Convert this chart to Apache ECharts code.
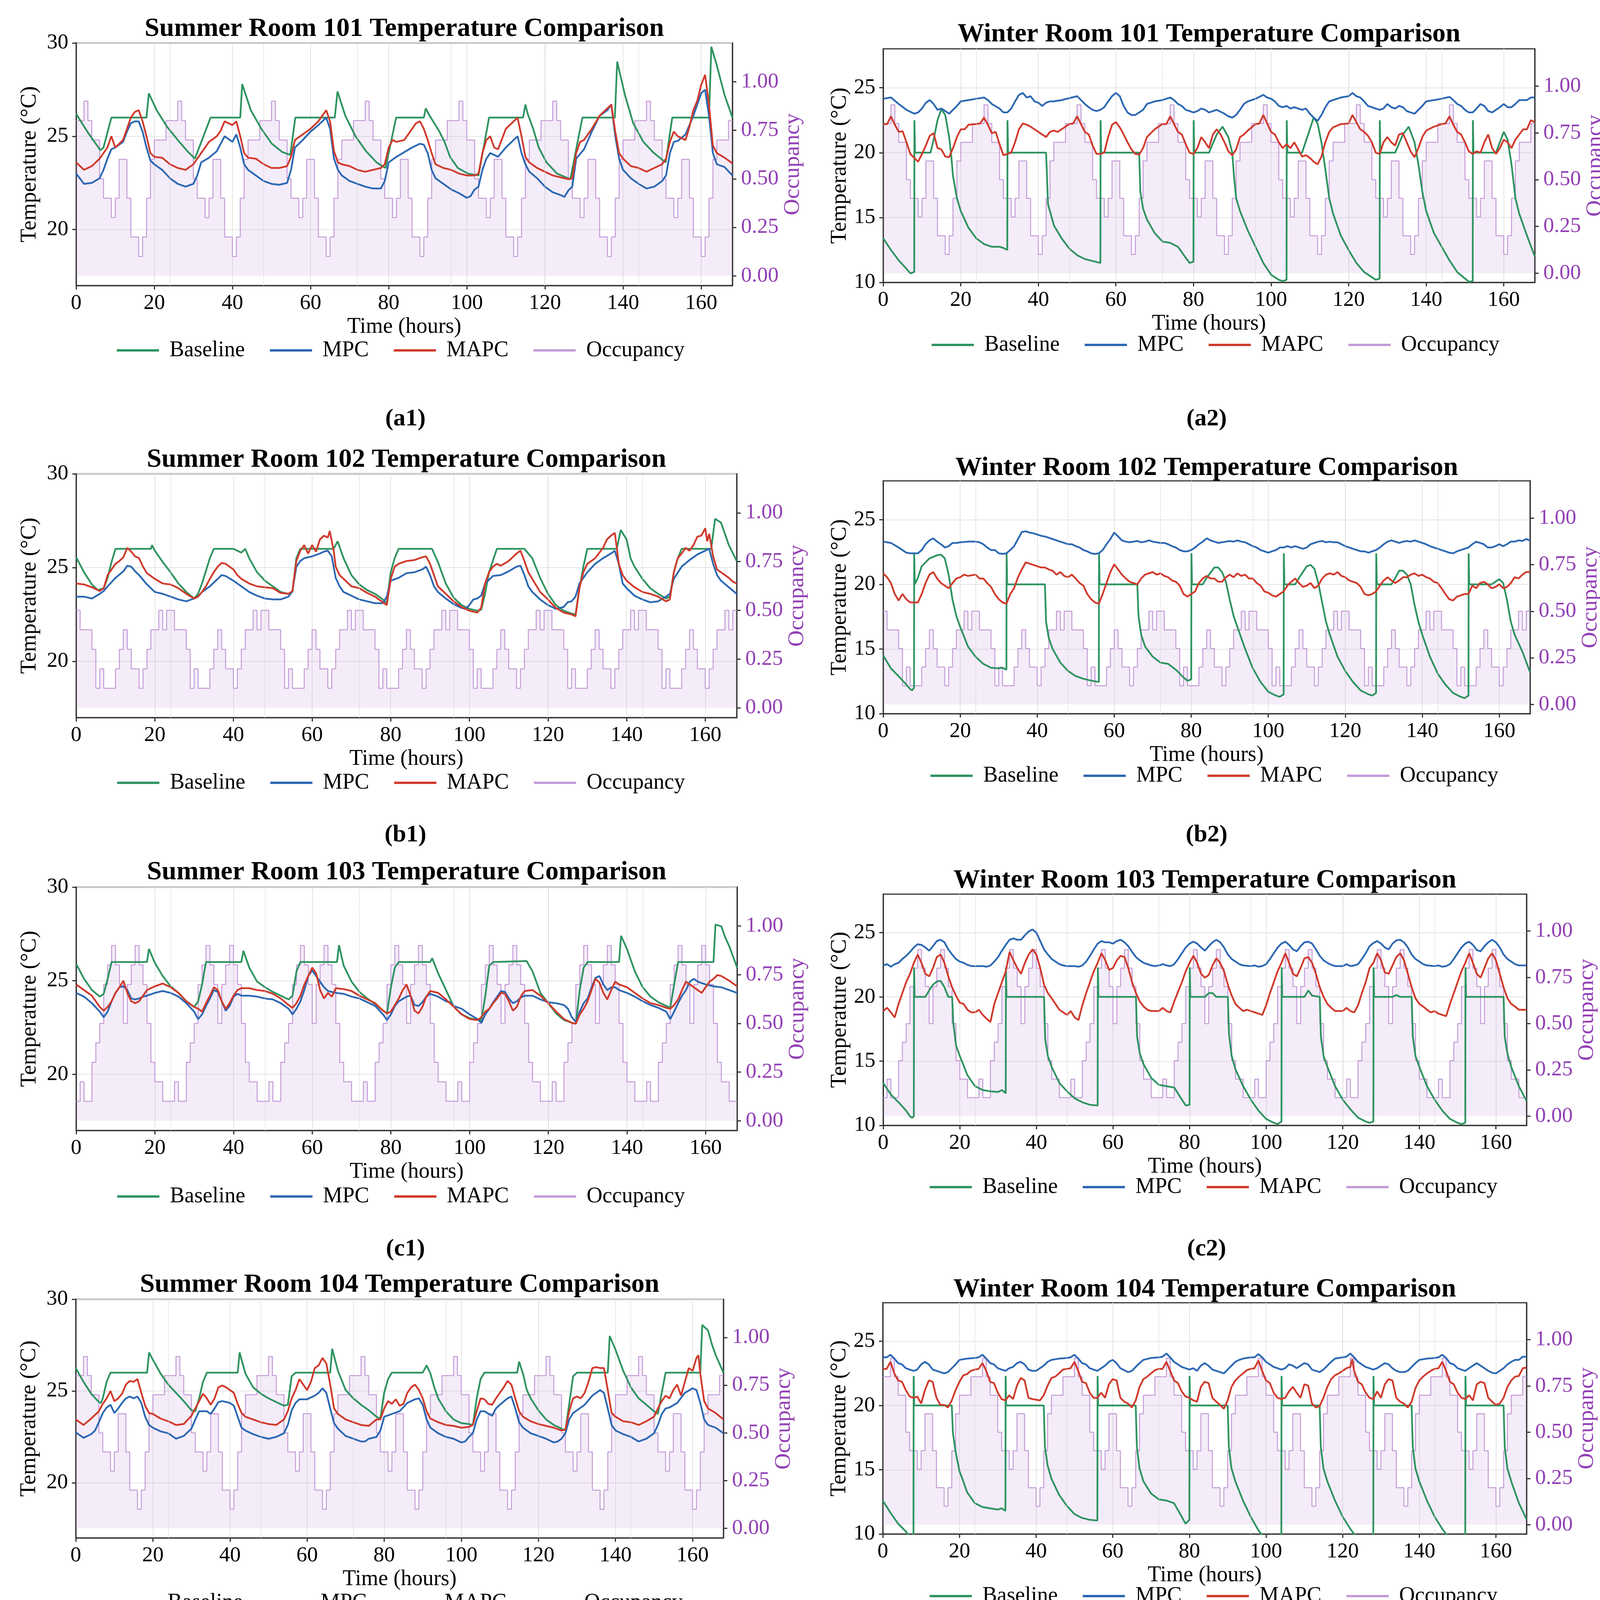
<!DOCTYPE html>
<html>
<head>
<meta charset="utf-8">
<script src="https://cdn.jsdelivr.net/npm/echarts@6.0.0/dist/echarts.min.js"></script>
<style>
html, body { margin: 0; padding: 0; background: #fff; }
#chart { width: 4142px; height: 4303px; }
</style>
</head>
<body>
<div id="chart"></div>
<script>
// ---- tick labels / axis values ----
var hourTicks = [0, 20, 40, 60, 80, 100, 120, 140, 160];
var summerTicks = [20, 25, 30];
var winterTicks = [10, 15, 20, 25];
var occTicks = [0, 0.25, 0.5, 0.75, 1];
var dayMarks = [24, 48, 72, 96, 120, 144];
var seriesNames = ['Baseline', 'MPC', 'MAPC', 'Occupancy'];

// ---- hourly occupancy, hours 0..168 ----
var occ101 = [
  0.8,0.8,0.9,0.8,0.7,0.7,0.5,0.4,0.4,0.3,0.4,0.6,0.6,0.4,0.2,0.2,0.1,0.2,0.4,0.6,0.7,0.7,0.7,0.8,
  0.8,0.8,0.9,0.8,0.7,0.7,0.5,0.4,0.4,0.3,0.4,0.6,0.6,0.4,0.2,0.2,0.1,0.2,0.4,0.6,0.7,0.7,0.7,0.8,
  0.8,0.8,0.9,0.8,0.7,0.7,0.5,0.4,0.4,0.3,0.4,0.6,0.6,0.4,0.2,0.2,0.1,0.2,0.4,0.6,0.7,0.7,0.7,0.8,
  0.8,0.8,0.9,0.8,0.7,0.7,0.5,0.4,0.4,0.3,0.4,0.6,0.6,0.4,0.2,0.2,0.1,0.2,0.4,0.6,0.7,0.7,0.7,0.8,
  0.8,0.8,0.9,0.8,0.7,0.7,0.5,0.4,0.4,0.3,0.4,0.6,0.6,0.4,0.2,0.2,0.1,0.2,0.4,0.6,0.7,0.7,0.7,0.8,
  0.8,0.8,0.9,0.8,0.7,0.7,0.5,0.4,0.4,0.3,0.4,0.6,0.6,0.4,0.2,0.2,0.1,0.2,0.4,0.6,0.7,0.7,0.7,0.8,
  0.8,0.8,0.9,0.8,0.7,0.7,0.5,0.4,0.4,0.3,0.4,0.6,0.6,0.4,0.2,0.2,0.1,0.2,0.4,0.6,0.7,0.7,0.7,0.8,
  0.8];
var occ102 = [
  0.5,0.4,0.4,0.4,0.3,0.1,0.2,0.1,0.1,0.1,0.2,0.3,0.4,0.3,0.2,0.2,0.1,0.2,0.3,0.4,0.4,0.5,0.4,0.5,
  0.5,0.4,0.4,0.4,0.3,0.1,0.2,0.1,0.1,0.1,0.2,0.3,0.4,0.3,0.2,0.2,0.1,0.2,0.3,0.4,0.4,0.5,0.4,0.5,
  0.5,0.4,0.4,0.4,0.3,0.1,0.2,0.1,0.1,0.1,0.2,0.3,0.4,0.3,0.2,0.2,0.1,0.2,0.3,0.4,0.4,0.5,0.4,0.5,
  0.5,0.4,0.4,0.4,0.3,0.1,0.2,0.1,0.1,0.1,0.2,0.3,0.4,0.3,0.2,0.2,0.1,0.2,0.3,0.4,0.4,0.5,0.4,0.5,
  0.5,0.4,0.4,0.4,0.3,0.1,0.2,0.1,0.1,0.1,0.2,0.3,0.4,0.3,0.2,0.2,0.1,0.2,0.3,0.4,0.4,0.5,0.4,0.5,
  0.5,0.4,0.4,0.4,0.3,0.1,0.2,0.1,0.1,0.1,0.2,0.3,0.4,0.3,0.2,0.2,0.1,0.2,0.3,0.4,0.4,0.5,0.4,0.5,
  0.5,0.4,0.4,0.4,0.3,0.1,0.2,0.1,0.1,0.1,0.2,0.3,0.4,0.3,0.2,0.2,0.1,0.2,0.3,0.4,0.4,0.5,0.4,0.5,
  0.5];
var occ103 = [
  0.1,0.2,0.1,0.1,0.3,0.4,0.5,0.7,0.8,0.9,0.8,0.7,0.5,0.7,0.8,0.9,0.8,0.7,0.5,0.3,0.2,0.2,0.1,0.1,
  0.1,0.2,0.1,0.1,0.3,0.4,0.5,0.7,0.8,0.9,0.8,0.7,0.5,0.7,0.8,0.9,0.8,0.7,0.5,0.3,0.2,0.2,0.1,0.1,
  0.1,0.2,0.1,0.1,0.3,0.4,0.5,0.7,0.8,0.9,0.8,0.7,0.5,0.7,0.8,0.9,0.8,0.7,0.5,0.3,0.2,0.2,0.1,0.1,
  0.1,0.2,0.1,0.1,0.3,0.4,0.5,0.7,0.8,0.9,0.8,0.7,0.5,0.7,0.8,0.9,0.8,0.7,0.5,0.3,0.2,0.2,0.1,0.1,
  0.1,0.2,0.1,0.1,0.3,0.4,0.5,0.7,0.8,0.9,0.8,0.7,0.5,0.7,0.8,0.9,0.8,0.7,0.5,0.3,0.2,0.2,0.1,0.1,
  0.1,0.2,0.1,0.1,0.3,0.4,0.5,0.7,0.8,0.9,0.8,0.7,0.5,0.7,0.8,0.9,0.8,0.7,0.5,0.3,0.2,0.2,0.1,0.1,
  0.1,0.2,0.1,0.1,0.3,0.4,0.5,0.7,0.8,0.9,0.8,0.7,0.5,0.7,0.8,0.9,0.8,0.7,0.5,0.3,0.2,0.2,0.1,0.1,
  0.1];
var occ104 = [
  0.8,0.8,0.9,0.8,0.7,0.7,0.5,0.4,0.4,0.3,0.4,0.6,0.6,0.4,0.2,0.2,0.1,0.2,0.4,0.6,0.7,0.7,0.7,0.8,
  0.8,0.8,0.9,0.8,0.7,0.7,0.5,0.4,0.4,0.3,0.4,0.6,0.6,0.4,0.2,0.2,0.1,0.2,0.4,0.6,0.7,0.7,0.7,0.8,
  0.8,0.8,0.9,0.8,0.7,0.7,0.5,0.4,0.4,0.3,0.4,0.6,0.6,0.4,0.2,0.2,0.1,0.2,0.4,0.6,0.7,0.7,0.7,0.8,
  0.8,0.8,0.9,0.8,0.7,0.7,0.5,0.4,0.4,0.3,0.4,0.6,0.6,0.4,0.2,0.2,0.1,0.2,0.4,0.6,0.7,0.7,0.7,0.8,
  0.8,0.8,0.9,0.8,0.7,0.7,0.5,0.4,0.4,0.3,0.4,0.6,0.6,0.4,0.2,0.2,0.1,0.2,0.4,0.6,0.7,0.7,0.7,0.8,
  0.8,0.8,0.9,0.8,0.7,0.7,0.5,0.4,0.4,0.3,0.4,0.6,0.6,0.4,0.2,0.2,0.1,0.2,0.4,0.6,0.7,0.7,0.7,0.8,
  0.8,0.8,0.9,0.8,0.7,0.7,0.5,0.4,0.4,0.3,0.4,0.6,0.6,0.4,0.2,0.2,0.1,0.2,0.4,0.6,0.7,0.7,0.7,0.8,
  0.8];

// ---- temperatures, [hour, degC] ----
// summer room 101
var a1Base = [[0,26.2],[3,25.2],[6.2,24.25],[7,24.4],[9,26],[18,26],[18.6,27.3],[20.6,26.4],[23.3,25.5],[26,24.8],[28.7,24.15],[30.4,23.8],[34.4,26],[42,26],[42.5,27.8],[44.7,26.4],[47.4,25.4],[50.1,24.6],[52.8,24.15],[54.8,24.0],[56.1,26],[66.2,26],[66.9,27.4],[68.9,26.1],[71.5,25.0],[74.2,24.2],[76.9,23.6],[79.2,23.3],[81.9,26],[89,26],[89.5,26.5],[90.2,26.2],[93,25.25],[94.3,24.7],[95.7,23.9],[97.7,23.3],[100.3,23.0],[103,22.9],[105.7,26],[114.4,26],[115,26.7],[115.6,26.2],[117,25.4],[118.4,24.4],[120.4,23.6],[123.1,23.0],[126.5,22.7],[127.8,24.1],[129.6,26],[137.9,26],[138.5,29.0],[140.5,27.2],[142.6,25.7],[145.2,24.7],[147.9,24.1],[150.9,23.6],[152.6,26],[162,26],[162.6,29.8],[164,28.8],[166,27.2],[168,26.0]];
var a1Mpc = [[0,23.0],[2,22.45],[4,22.5],[6,22.75],[7,23.2],[8,23.8],[9,24.3],[10,24.4],[12,24.7],[13,25.25],[14,25.7],[15,25.8],[16,25.8],[17,25.25],[18,24.4],[19,23.7],[20,23.5],[22,23.2],[24,22.75],[26,22.45],[28,22.3],[30,22.45],[31,22.9],[32,23.6],[34,23.85],[36,24.2],[38,25.0],[40,24.7],[41,25.1],[42,24.4],[43,23.5],[44,23.2],[46,22.9],[48,22.6],[50,22.45],[52,22.4],[54,22.5],[55,23.2],[56,24.4],[58,24.8],[60,25.25],[62,25.6],[63,25.8],[64,26.0],[65,25.4],[66,23.8],[67,23.2],[68,22.9],[70,22.6],[72,22.45],[74,22.3],[76,22.2],[78,22.2],[79,22.6],[80,23.6],[82,23.9],[84,24.15],[86,24.4],[88,24.6],[89,24.55],[90,24.1],[91,23.2],[92,22.75],[94,22.45],[96,22.15],[98,21.95],[100,21.7],[101,21.8],[102,22.15],[103,22.3],[104,23.2],[105,23.8],[106,24.1],[108,23.9],[110,24.4],[112,24.8],[113,25.0],[114,24.1],[115,23.5],[116,23.1],[118,22.75],[120,22.3],[122,22.0],[124,21.85],[125,21.75],[126,22.1],[127,22.3],[128,23.8],[130,24.3],[132,25.25],[134,26.1],[136,26.4],[137,26.7],[138,25.0],[139,23.8],[140,23.2],[142,22.75],[144,22.45],[146,22.2],[148,22.3],[150,22.6],[151,22.9],[152,24.1],[153,24.7],[154,24.75],[156,25.1],[158,26.1],[160,27.3],[161,27.5],[162,26.1],[163,24.1],[164,23.5],[166,23.35],[168,22.9]];
var a1Mapc = [[0,23.6],[2,23.2],[4,23.4],[6,23.8],[8,24.4],[9,25.0],[10,24.4],[12,24.8],[13,25.4],[14,26.0],[15,26.3],[16,26.4],[17,25.8],[18,25.0],[19,24.1],[20,23.9],[22,23.85],[24,23.5],[26,23.3],[28,23.2],[30,23.5],[31,23.8],[32,24.1],[34,24.7],[36,25.0],[37,25.3],[38,25.8],[40,25.6],[41,25.8],[42,25.0],[43,24.1],[44,23.85],[46,23.8],[48,23.5],[50,23.3],[52,23.3],[54,23.4],[55,23.9],[56,24.8],[58,25.1],[60,25.4],[62,25.8],[63,26.1],[64,26.4],[65,25.8],[66,24.2],[67,23.6],[68,23.5],[70,23.4],[72,23.2],[74,23.1],[76,23.2],[78,23.3],[79,23.5],[80,24.4],[81,24.8],[82,24.7],[84,24.8],[86,25.4],[87,25.7],[88,25.8],[89,25.4],[90,24.8],[91,24.1],[92,23.5],[94,23.3],[96,23.2],[98,23.0],[100,22.9],[102,22.9],[103,23.0],[104,24.1],[105,24.8],[106,25.0],[107,24.4],[108,24.3],[110,25.4],[112,25.8],[113,26.0],[114,25.0],[115,23.9],[116,23.6],[118,23.3],[120,23.1],[122,22.9],[124,22.8],[126,22.7],[127,22.75],[128,24.1],[129,24.7],[130,24.8],[132,25.4],[134,26.1],[136,26.5],[137,26.7],[138,25.25],[139,24.1],[140,23.8],[142,23.4],[144,23.3],[146,23.1],[148,23.3],[150,23.5],[151,23.8],[152,24.7],[153,25.25],[154,25.0],[156,24.8],[157,25.5],[158,26.4],[159,26.9],[160,27.75],[161,28.3],[162,26.7],[163,24.5],[164,24.1],[166,23.85],[168,23.55]];
// winter room 101
var a2Base = [[0,13.4],[2,12.5],[4,11.7],[6,11.05],[7,10.7],[8,10.8],[8.05,22.5],[8.2,20],[12.2,20],[13,21.0],[14,22.5],[15,23.35],[16,22.9],[17,21.2],[17.5,19.9],[18,18.2],[19,16.5],[20,15.5],[22,14.2],[24,13.4],[26,12.95],[28,12.75],[30,12.75],[31,12.65],[32,12.5],[32.05,22.5],[32.2,20],[42,20],[42.5,16],[43,15.5],[44,14.4],[46,13.4],[48,12.6],[50,12.1],[52,11.8],[54,11.65],[56,11.5],[56.05,22.5],[56.2,20],[66,20],[66.3,17],[67,15.7],[68,14.85],[70,13.8],[72,13.15],[74,13.05],[76,12.75],[78,11.9],[79,11.5],[80,11.6],[80.05,22.5],[80.2,20],[84,20],[86,21.4],[87.5,22.0],[89,21.2],[90,20],[90.5,18.0],[91,16.5],[92,15.5],[94,14.0],[96,12.75],[98,11.5],[100,10.6],[102,10.2],[103,10.1],[104,10.2],[104.05,22.5],[104.2,20],[108,20],[110,21.8],[111,22.7],[112,22.25],[113,20.8],[114,18.7],[115,16.5],[116,15.3],[118,13.6],[120,12.5],[122,11.5],[124,10.8],[126,10.4],[127,10.2],[128,10.3],[128.05,22.5],[128.2,20],[132,20],[134,21.4],[135.5,22.0],[137,20.8],[138,19.1],[139,17.0],[140,15.5],[142,13.8],[144,12.75],[146,11.7],[148,10.8],[150,10.3],[151,10.05],[152,10.1],[152.05,22.5],[152.2,20],[158,20],[159,20.8],[160,21.6],[161,21.0],[162,19.1],[163,16.5],[164,15.3],[166,13.6],[168,12.0]];
var a2Mpc = [[0,24.15],[2,24.25],[4,23.75],[6,23.3],[8,23.0],[9,23.1],[10,23.4],[11,23.85],[12,24.05],[13,23.75],[14,23.3],[15,23.4],[16,23.2],[17,23.0],[18,23.3],[19,23.6],[20,23.95],[22,24.05],[24,24.15],[26,24.25],[27,24.05],[28,23.75],[30,23.4],[31,23.1],[32,23.1],[33,23.4],[34,23.95],[35,24.45],[36,24.6],[37,24.25],[38,24.35],[39,23.95],[40,23.85],[41,23.6],[42,23.85],[43,23.95],[44,23.95],[46,24.05],[48,24.2],[50,24.35],[51,24.05],[52,23.75],[53,23.5],[54,23.3],[55,23.2],[56,23.3],[57,23.5],[58,23.95],[59,24.35],[60,24.6],[61,24.35],[62,23.6],[63,23.1],[64,22.9],[65,22.9],[66,23.1],[67,23.3],[68,23.75],[69,23.85],[70,23.95],[72,24.05],[74,24.25],[75,24.05],[76,23.75],[77,23.6],[78,23.3],[79,23.2],[80,23.1],[81,23.2],[82,23.4],[83,23.3],[84,23.1],[85,23.2],[86,23.3],[88,23.0],[89,22.8],[90,22.7],[91,22.9],[92,23.3],[93,23.75],[94,23.95],[96,24.15],[98,24.45],[99,24.25],[100,24.15],[101,23.95],[102,23.6],[103,23.5],[104,23.6],[105,23.4],[106,23.5],[107,23.4],[108,23.3],[109,23.4],[110,23.0],[111,22.7],[112,22.45],[113,22.9],[114,23.5],[115,23.95],[116,24.05],[118,24.25],[120,24.35],[121,24.6],[122,24.35],[123,24.25],[124,23.95],[125,23.6],[126,23.5],[127,23.4],[128,23.3],[129,23.4],[130,23.75],[131,23.5],[132,23.4],[133,23.6],[134,23.5],[135,23.2],[136,23.1],[137,23.0],[138,23.3],[139,23.6],[140,23.95],[142,24.05],[144,24.15],[146,24.3],[147,24.05],[148,23.75],[149,23.6],[150,23.3],[151,23.1],[152,23.1],[153,23.4],[154,23.75],[155,23.6],[156,23.2],[157,23.1],[158,23.3],[159,23.5],[160,23.75],[161,23.5],[162,23.5],[163,23.75],[164,24.05],[166,24.05],[167,24.25],[168,24.25]];
var a2Mapc = [[0,22.2],[1,22.2],[2,22.8],[3,22.15],[4,21.6],[5,21.65],[6,20.8],[7,19.9],[8,19.6],[9,19.3],[10,19.9],[11,20.55],[12,21.3],[13,21.5],[14,20.35],[15,20.25],[16,19.7],[17,19.65],[18,20.35],[19,21.2],[20,21.8],[21,21.8],[22,22.15],[24,22.2],[25,22.25],[26,22.7],[27,22.15],[28,21.5],[29,21.6],[30,20.65],[31,19.8],[32,19.9],[33,20.0],[34,20.8],[35,21.8],[36,22.25],[37,22.15],[38,22.0],[39,21.8],[40,21.6],[41,21.4],[42,21.2],[43,21.6],[44,21.7],[45,21.6],[46,21.8],[48,22.2],[49,22.25],[50,22.8],[51,22.2],[52,21.6],[53,21.4],[54,20.55],[55,19.9],[56,19.9],[57,20.0],[58,21.2],[59,22.15],[60,22.35],[61,21.95],[62,21.4],[63,20.8],[64,20.25],[65,19.9],[66,19.85],[67,20.35],[68,21.2],[69,21.5],[70,21.8],[72,22.2],[73,22.2],[74,22.8],[75,22.2],[76,21.6],[77,21.4],[78,20.65],[79,20.0],[80,19.9],[81,20.35],[82,21.2],[83,20.8],[84,20.35],[85,21.4],[86,21.8],[87,21.4],[88,20.8],[89,20.1],[90,19.8],[91,20.25],[92,21.2],[93,21.4],[94,21.7],[96,22.2],[97,22.25],[98,22.9],[99,22.25],[100,21.6],[101,21.4],[102,20.8],[103,20.35],[104,20.65],[105,20.35],[106,20.8],[107,20.25],[108,19.7],[109,19.8],[110,19.6],[111,19.3],[112,19.1],[113,19.7],[114,20.8],[115,21.6],[116,21.95],[118,22.2],[120,22.25],[121,22.9],[122,22.35],[123,21.8],[124,21.6],[125,21.3],[126,20.8],[127,20.0],[128,19.9],[129,20.8],[130,21.2],[131,20.8],[132,20.55],[133,21.4],[134,21.5],[135,20.8],[136,20.1],[137,19.65],[138,20.35],[139,21.2],[140,21.7],[142,22.0],[144,22.2],[145,22.25],[146,22.8],[147,22.15],[148,21.6],[149,21.4],[150,20.8],[151,20.1],[152,19.9],[153,20.1],[154,20.0],[155,20.8],[156,21.4],[157,20.35],[158,19.9],[159,20.35],[160,21.0],[161,20.8],[162,20.35],[163,21.0],[164,21.4],[165,21.8],[166,21.8],[167,22.5],[168,22.35]];
// summer room 102
var b1Base = [[0,25.55],[2,24.75],[4,24.1],[5.5,23.8],[7,23.9],[8,24.45],[9,25.3],[10,26.0],[19,26.0],[19.3,26.2],[20,25.9],[22,25.3],[24,24.75],[26,24.15],[28,23.7],[30,23.35],[31,23.6],[32,24.15],[34,25.5],[35,26.0],[40,26.0],[42,25.8],[43,26.0],[44,25.5],[46,24.75],[48,24.3],[50,24.0],[52,23.7],[54,23.6],[55,23.7],[56,25.5],[57,26.0],[65.5,26.0],[66.5,26.4],[68,25.5],[70,24.6],[72,24.1],[74,23.8],[76,23.6],[78,23.3],[79,23.1],[80,24.75],[81,25.5],[82,26.0],[90.5,26.0],[92,25.3],[94,24.15],[96,23.4],[98,23.0],[100,22.8],[102,22.7],[103,22.75],[104,23.6],[105,24.75],[107,26.0],[114,26.0],[116,25.5],[118,24.45],[120,23.6],[122,23.0],[124,22.7],[126,22.55],[127,22.5],[128,23.9],[129,25.05],[130,26.0],[137.5,26.0],[138.5,27.0],[140,26.5],[141,25.5],[142,25.05],[144,24.4],[146,23.9],[148,23.6],[150,23.35],[151,23.45],[152,24.75],[153,25.5],[154,26.0],[161.5,26.0],[162.5,27.6],[164,27.4],[165,26.8],[166,26.2],[168,25.35]];
var b1Mpc = [[0,23.45],[2,23.45],[4,23.35],[6,23.6],[7,23.75],[8,24.0],[10,24.45],[12,24.8],[13,25.1],[14,25.05],[15,24.8],[16,24.6],[18,24.1],[20,23.7],[22,23.6],[24,23.45],[26,23.3],[28,23.2],[30,23.35],[31,23.45],[32,23.7],[34,24.0],[36,24.4],[37,24.6],[38,24.55],[40,24.3],[42,24.0],[44,23.7],[46,23.5],[48,23.35],[50,23.3],[52,23.3],[54,23.45],[55,23.75],[56,25.05],[57,25.35],[58,25.5],[60,25.6],[62,25.75],[63,25.85],[64,25.9],[65,25.6],[66,24.45],[67,24.0],[68,23.7],[70,23.5],[72,23.3],[74,23.2],[76,23.1],[78,23.1],[79,23.45],[80,24.3],[82,24.45],[84,24.7],[86,24.75],[88,24.9],[89,25.05],[90,24.6],[91,24.0],[92,23.7],[94,23.35],[96,23.05],[98,22.85],[99,22.8],[100,23.0],[101,23.3],[102,23.35],[103,23.5],[104,24.15],[106,24.55],[108,24.6],[110,24.8],[112,25.05],[113,25.1],[114,24.6],[115,24.0],[116,23.7],[118,23.3],[120,23.0],[122,22.8],[124,22.9],[125,23.15],[126,23.2],[127,23.45],[128,24.15],[130,24.75],[132,25.2],[134,25.5],[136,25.75],[137,25.9],[138,25.2],[139,24.15],[140,23.9],[142,23.5],[144,23.3],[146,23.15],[148,23.2],[150,23.45],[151,23.6],[152,24.4],[154,25.05],[156,25.4],[158,25.7],[160,25.9],[161,26.0],[162,25.2],[163,24.6],[164,24.3],[166,23.95],[168,23.6]];
var b1Mapc = [[0,24.15],[2,24.1],[4,23.95],[6,23.75],[7,23.9],[8,24.6],[9,24.9],[10,25.2],[11,25.35],[12,25.55],[13,26.05],[14,25.85],[15,25.6],[16,25.5],[17,25.05],[18,24.7],[19,24.55],[20,24.4],[22,24.15],[24,24.1],[26,23.9],[28,23.6],[30,23.35],[31,23.45],[32,23.7],[33,24.0],[34,24.4],[35,24.75],[36,25.05],[37,25.25],[38,25.2],[39,25.05],[40,24.9],[41,24.6],[42,24.4],[44,24.15],[46,24.0],[48,23.95],[50,23.9],[52,23.65],[54,23.6],[55,23.75],[56,25.35],[57,25.9],[58,26.2],[59,25.75],[60,26.2],[61,25.85],[62,26.5],[63,26.7],[64,26.6],[64.5,26.95],[65.5,25.9],[66,25.05],[67,24.6],[68,24.4],[70,24.0],[72,23.9],[74,23.65],[76,23.45],[78,23.15],[79,23.0],[80,24.4],[81,25.05],[82,25.2],[84,25.35],[86,25.4],[88,25.55],[89,25.6],[90,25.2],[91,24.6],[92,24.0],[94,23.6],[96,23.2],[98,22.9],[100,22.7],[102,22.6],[103,22.85],[104,24.15],[105,24.75],[106,25.05],[107,25.2],[108,25.1],[110,25.35],[111,25.55],[112,25.75],[113,25.9],[114,25.35],[115,24.75],[116,24.4],[118,23.7],[120,23.3],[122,22.85],[124,22.6],[126,22.5],[127,22.4],[128,23.9],[129,24.75],[130,25.2],[132,25.5],[134,26.05],[135,26.5],[136,26.7],[137,26.85],[137.5,26.05],[138,25.2],[139,24.6],[140,24.3],[142,23.95],[144,23.7],[146,23.6],[148,23.45],[150,23.2],[151,23.3],[152,24.75],[153,25.5],[154,25.75],[155,26.05],[156,25.9],[157,26.2],[158,26.65],[159,26.7],[160,27.1],[160.5,26.4],[161,26.8],[162,25.6],[163,24.9],[164,24.75],[165,24.6],[166,24.45],[167,24.25],[168,24.15]];
// winter room 102
var b2Base = [[0,14.5],[2,13.5],[4,12.9],[6,12.25],[7,11.9],[7.5,11.8],[8,12.0],[8.05,22.4],[8.2,20],[9,20.5],[10,21.4],[12,22.0],[14,22.25],[15,22.3],[16,22.0],[17,20.75],[18,18.8],[19,17.55],[20,16.7],[22,15.2],[24,14.4],[26,13.85],[28,13.55],[30,13.5],[31,13.55],[32,13.4],[32.05,22.4],[32.2,20],[42,20],[42.3,17.1],[43,15.85],[44,15.0],[46,13.95],[48,13.3],[50,12.9],[52,12.7],[54,12.55],[56,12.45],[56.05,22.4],[56.2,20],[66,20],[66.3,17.55],[67,16.1],[68,15.2],[70,14.4],[72,13.95],[74,13.85],[76,13.4],[78,12.8],[79,12.55],[80,12.65],[80.05,22.4],[80.2,20],[83,20],[84,20.5],[86,21.3],[87,21.3],[88,20.95],[89,20.2],[90,18.8],[91,17.55],[92,16.7],[94,15.0],[96,13.5],[98,12.45],[100,11.7],[102,11.4],[103,11.3],[104,11.5],[104.05,22.4],[104.2,20],[107,20],[108,20.5],[110,21.4],[111,21.5],[112,21.2],[113,20.1],[114,18.6],[115,17.1],[116,16.1],[118,14.4],[120,13.3],[122,12.45],[124,11.8],[126,11.5],[127,11.4],[128,11.6],[128.05,22.4],[128.2,20],[132,20],[133,20.5],[134,21.05],[135,21.05],[136,20.75],[137,20.0],[138,18.4],[139,17.1],[140,16.1],[142,14.4],[144,13.1],[146,12.25],[148,11.6],[150,11.3],[151,11.2],[152,11.4],[152.05,22.4],[152.2,20],[158,20],[159,20.2],[160,20.4],[161,20.1],[162,18.8],[163,17.1],[164,16.1],[166,14.8],[168,13.2]];
var b2Mpc = [[0,23.3],[2,23.2],[4,22.85],[5,22.65],[6,22.45],[7,22.4],[8,22.4],[9,22.4],[10,22.65],[11,23.1],[12,23.4],[13,23.55],[14,23.3],[15,23.1],[16,22.85],[17,22.95],[18,23.2],[19,23.2],[20,23.25],[22,23.3],[24,23.3],[25,23.25],[26,23.1],[27,22.85],[28,22.65],[29,22.65],[30,22.4],[31,22.35],[32,22.4],[33,22.65],[34,22.95],[35,23.5],[36,24.05],[37,24.1],[38,24.0],[39,23.95],[40,23.85],[41,23.75],[42,23.7],[43,23.6],[44,23.5],[45,23.4],[46,23.3],[47,23.2],[48,23.1],[49,23.1],[50,22.95],[51,22.85],[52,22.65],[53,22.55],[54,22.4],[55,22.35],[56,22.4],[57,22.65],[58,23.1],[59,23.5],[60,24.0],[61,23.7],[62,23.4],[63,23.3],[64,23.25],[65,23.3],[66,23.35],[67,23.25],[68,23.3],[69,23.4],[70,23.3],[71,23.25],[72,23.2],[73,23.2],[74,23.1],[75,22.95],[76,22.85],[77,22.65],[78,22.55],[79,22.55],[80,22.65],[81,22.85],[82,23.1],[83,23.3],[84,23.55],[85,23.4],[86,23.3],[87,23.2],[88,23.25],[89,23.3],[90,23.35],[91,23.3],[92,23.4],[93,23.3],[94,23.25],[95,23.1],[96,22.95],[97,22.85],[98,22.65],[99,22.55],[100,22.45],[101,22.55],[102,22.65],[103,22.85],[104,22.85],[105,22.95],[106,22.85],[107,22.95],[108,22.85],[109,22.75],[110,22.85],[111,23.1],[112,23.2],[113,23.3],[114,23.35],[115,23.25],[116,23.3],[117,23.25],[118,23.25],[119,23.1],[120,22.95],[121,22.85],[122,22.75],[123,22.65],[124,22.55],[125,22.55],[126,22.45],[127,22.55],[128,22.65],[129,22.85],[130,23.1],[131,23.3],[132,23.4],[133,23.3],[134,23.2],[135,23.3],[136,23.35],[137,23.3],[138,23.4],[139,23.3],[140,23.2],[141,23.1],[142,22.95],[143,22.85],[144,22.75],[145,22.65],[146,22.55],[147,22.45],[148,22.4],[149,22.55],[150,22.65],[151,22.75],[152,22.85],[153,23.1],[154,23.3],[155,23.2],[156,23.1],[157,22.85],[158,22.85],[159,22.95],[160,23.1],[161,22.95],[162,23.1],[163,23.3],[164,23.3],[165,23.4],[166,23.35],[167,23.5],[168,23.4]];
var b2Mapc = [[0,20.85],[1,20.55],[2,20.1],[3,19.25],[4,18.75],[5,19.25],[6,18.85],[7,18.6],[8,18.6],[9,18.6],[10,19.25],[11,20.1],[12,20.75],[13,20.95],[14,20.45],[15,20.1],[16,19.9],[17,19.7],[18,20.1],[19,20.45],[20,20.55],[21,20.75],[22,20.65],[24,20.75],[25,20.45],[26,20.45],[27,20.1],[28,19.8],[29,19.25],[30,18.85],[31,18.6],[32,18.5],[33,19.25],[34,19.7],[35,20.55],[36,21.15],[37,21.7],[38,21.6],[39,21.5],[40,21.4],[41,21.3],[42,21.3],[43,21.15],[44,21.05],[45,20.75],[46,20.95],[47,20.65],[48,20.55],[49,20.75],[50,20.45],[51,20.1],[52,19.9],[53,19.25],[54,18.85],[55,18.6],[56,18.5],[57,19.25],[58,20.1],[59,20.95],[60,21.55],[61,21.15],[62,20.75],[63,20.45],[64,20.2],[65,20.1],[66,20.0],[67,20.45],[68,20.75],[69,20.85],[70,20.95],[71,20.75],[72,20.85],[73,20.65],[74,20.55],[75,20.3],[76,20.2],[77,19.9],[78,19.25],[79,19.05],[80,19.25],[81,19.45],[82,20.1],[83,20.45],[84,20.65],[85,20.45],[86,20.45],[87,20.2],[88,20.2],[89,20.55],[90,20.75],[91,20.55],[92,20.85],[93,20.65],[94,20.75],[95,20.45],[96,20.45],[97,20.1],[98,19.9],[99,19.45],[100,19.35],[101,19.15],[102,19.05],[103,19.25],[104,19.45],[105,19.9],[106,20.2],[107,20.45],[108,20.1],[109,19.8],[110,19.9],[111,20.1],[112,19.7],[113,19.9],[114,20.45],[115,20.75],[116,20.85],[117,20.75],[118,20.95],[119,20.65],[120,20.55],[121,20.3],[122,20.2],[123,20.1],[124,19.8],[125,19.25],[126,19.15],[127,19.25],[128,19.45],[129,19.9],[130,20.3],[131,20.55],[132,20.3],[133,20.1],[134,20.3],[135,20.55],[136,20.55],[137,20.75],[138,20.85],[139,20.65],[140,20.75],[141,20.55],[142,20.45],[143,20.2],[144,20.1],[145,19.7],[146,19.25],[147,18.85],[148,18.75],[149,19.05],[150,19.15],[151,19.25],[152,19.25],[153,19.9],[154,19.7],[155,20.1],[156,20.2],[157,20.0],[158,19.7],[159,19.8],[160,20.0],[161,19.7],[162,19.8],[163,20.1],[164,20.55],[165,20.45],[166,20.75],[167,20.95],[168,20.95]];
// summer room 103
var c1Base = [[0,25.9],[2,25.1],[4,24.5],[6,24.15],[7,24.3],[8,25.1],[9,26.0],[18,26.0],[18.5,26.7],[20,25.95],[22,25.25],[24,24.7],[26,24.35],[28,23.9],[30,23.6],[31,23.9],[32,24.8],[33,26.0],[42,26.0],[42.5,26.6],[44,25.7],[46,24.95],[48,24.65],[50,24.4],[52,24.2],[54,24.0],[55,24.2],[56,25.5],[57,26.0],[66.3,26.0],[66.8,26.9],[68,25.8],[70,24.95],[72,24.4],[74,24.05],[76,23.75],[78,23.4],[79,23.25],[80,24.65],[81,25.7],[82,26.0],[90,26.0],[90.5,26.2],[92,25.4],[94,24.5],[96,23.6],[98,23.2],[100,23.0],[102,22.9],[103,22.9],[104,24.2],[105,25.8],[106,26.0],[114.5,26.05],[116,25.5],[118,24.35],[120,23.8],[122,23.25],[124,22.9],[126,22.75],[127,22.7],[128,24.5],[129,25.7],[130,26.0],[138,26.0],[138.5,27.4],[140,26.7],[142,25.5],[144,24.65],[146,24.15],[148,23.85],[150,23.65],[151,23.55],[152,24.8],[153,26.0],[162,26.0],[162.5,28.0],[164,27.9],[165,27.3],[166,26.85],[168,25.7]];
var c1Mpc = [[0,24.35],[2,24.15],[4,23.8],[6,23.35],[7,23.05],[8,23.35],[9,23.9],[10,24.35],[11,24.65],[12,24.7],[13,24.5],[14,24.05],[15,24.0],[16,24.05],[17,24.15],[18,24.2],[20,24.35],[22,24.45],[24,24.35],[26,24.15],[28,23.8],[30,23.35],[31,22.95],[32,23.2],[33,23.65],[34,24.05],[35,24.5],[36,24.4],[37,23.9],[38,23.4],[39,23.65],[40,24.15],[41,24.3],[42,24.2],[44,24.2],[46,24.15],[48,24.05],[50,24.0],[52,23.8],[54,23.5],[55,23.2],[56,23.5],[57,23.9],[58,24.5],[59,25.25],[60,25.55],[61,25.25],[62,24.95],[63,24.65],[64,24.45],[66,24.35],[68,24.3],[70,24.15],[72,24.05],[74,23.85],[76,23.65],[78,23.2],[79,22.9],[80,23.2],[81,23.65],[82,23.9],[84,24.15],[85,24.2],[86,23.7],[87,23.65],[88,23.85],[89,24.15],[90,24.3],[92,24.15],[94,23.9],[95,23.85],[96,23.65],[98,23.5],[100,23.2],[102,22.95],[103,22.75],[104,23.2],[105,23.5],[106,23.85],[107,24.15],[108,24.45],[109,24.4],[110,24.05],[111,23.8],[112,23.9],[113,24.1],[114,24.2],[116,24.2],[118,24.0],[120,23.85],[122,23.8],[124,23.7],[125,23.5],[126,23.05],[127,22.8],[128,23.35],[129,23.8],[130,24.05],[131,24.65],[132,25.15],[133,25.25],[134,24.8],[135,24.5],[136,24.65],[137,24.65],[138,24.5],[140,24.35],[142,24.15],[144,23.9],[146,23.7],[148,23.55],[150,23.35],[151,22.95],[152,23.35],[153,23.8],[154,24.2],[155,24.5],[156,24.95],[157,25.1],[158,24.95],[160,24.8],[162,24.7],[164,24.65],[166,24.5],[168,24.35]];
var c1Mapc = [[0,24.8],[2,24.5],[4,24.2],[6,23.6],[7,23.4],[8,23.6],[9,23.9],[10,24.35],[11,24.65],[12,25.0],[13,24.35],[14,23.9],[15,23.8],[16,23.9],[17,24.2],[18,24.5],[20,24.7],[22,24.85],[24,24.65],[26,24.35],[28,23.9],[30,23.6],[31,23.5],[32,23.35],[33,23.8],[34,24.2],[35,24.65],[36,24.5],[37,23.9],[38,23.5],[39,23.8],[40,24.2],[41,24.5],[42,24.6],[44,24.6],[46,24.5],[48,24.45],[50,24.3],[52,24.05],[54,23.7],[55,23.55],[56,23.8],[57,24.2],[58,24.8],[59,25.25],[60,25.7],[61,25.4],[62,24.5],[63,24.05],[64,24.35],[65,24.15],[66,24.6],[68,24.55],[70,24.45],[72,24.2],[74,24.0],[76,23.8],[78,23.4],[79,23.25],[80,23.35],[81,23.7],[82,24.05],[83,24.5],[84,24.8],[85,24.2],[86,23.4],[87,23.25],[88,23.6],[89,24.15],[90,24.45],[92,24.35],[94,24.0],[96,23.6],[98,23.2],[100,22.95],[102,22.9],[103,23.05],[104,23.35],[105,23.5],[106,23.8],[107,24.05],[108,24.35],[109,24.3],[110,23.9],[111,23.4],[112,23.6],[113,24.15],[114,24.45],[116,24.5],[118,24.2],[120,23.8],[122,23.35],[124,22.95],[126,22.75],[127,22.7],[128,23.2],[129,23.5],[130,23.9],[131,24.5],[132,25.1],[133,24.9],[134,24.35],[135,24.0],[136,24.5],[137,24.95],[138,24.8],[140,24.65],[142,24.35],[144,24.05],[146,23.8],[148,23.7],[150,23.55],[151,23.5],[152,23.7],[153,24.0],[154,24.5],[155,24.95],[156,24.8],[157,24.65],[158,24.5],[159,24.35],[160,24.65],[161,24.95],[162,25.1],[163,25.3],[164,25.25],[166,25.0],[168,24.7]];
// winter room 103
var c2Base = [[0,13.3],[2,12.4],[4,11.8],[6,11.15],[7,10.7],[7.5,10.6],[8,10.7],[8.05,22.3],[8.2,20],[11,20],[12,20.5],[13,20.95],[14,21.2],[15,21.25],[16,20.75],[17,20.0],[18,20.0],[18.3,18.0],[19,16.25],[20,15.4],[22,13.9],[24,13.05],[26,12.75],[28,12.65],[30,12.6],[31,12.75],[32,12.5],[32.05,22.3],[32.2,20],[42,20],[42.3,16.7],[43,15.4],[44,14.55],[46,13.3],[48,12.65],[50,12.1],[52,11.8],[54,11.6],[56,11.55],[56.05,22.3],[56.2,20],[66,20],[66.3,16.9],[67,15.6],[68,14.75],[70,13.7],[72,13.15],[74,13.05],[76,12.95],[78,12.0],[79,11.55],[80,11.6],[80.05,22.3],[80.2,20],[84,20],[85,20.3],[86,20.3],[87,20.0],[90,20],[90.3,17.1],[91,15.4],[92,14.35],[94,13.05],[96,12.0],[98,11.15],[100,10.5],[102,10.2],[103,10.1],[104,10.3],[104.05,22.3],[104.2,20],[110,20],[111,20.5],[112,20.1],[114,20],[114.3,16.9],[115,15.4],[116,14.55],[118,13.05],[120,12.0],[122,11.25],[124,10.6],[126,10.3],[127,10.2],[128,10.3],[128.05,22.3],[128.2,20],[133,20],[134,20.15],[135,20.0],[138,20],[138.3,16.9],[139,15.4],[140,14.55],[142,13.05],[144,12.0],[146,11.15],[148,10.5],[150,10.2],[151,10.1],[152,10.2],[152.05,22.3],[152.2,20],[162,20],[162.3,16.9],[163,15.6],[164,14.55],[166,13.05],[168,11.9]];
var c2Mpc = [[0,22.45],[1,22.55],[2,22.35],[3,22.55],[4,22.65],[5,22.95],[6,23.2],[7,23.5],[8,23.85],[9,24.1],[10,24.05],[11,23.85],[12,23.6],[13,23.95],[14,24.35],[15,24.45],[16,24.25],[17,23.7],[18,23.3],[19,22.95],[20,22.75],[21,22.65],[22,22.5],[23,22.4],[24,22.4],[26,22.4],[27,22.35],[28,22.45],[29,22.75],[30,23.1],[31,23.6],[32,24.05],[33,24.45],[34,24.55],[35,24.45],[36,24.45],[37,24.8],[38,25.1],[39,25.25],[40,25.0],[41,24.35],[42,23.7],[43,23.3],[44,22.95],[45,22.75],[46,22.55],[47,22.45],[48,22.4],[50,22.4],[51,22.35],[52,22.45],[53,22.75],[54,23.2],[55,23.7],[56,24.15],[57,24.35],[58,24.25],[59,24.25],[60,24.15],[61,24.35],[62,24.45],[63,24.25],[64,23.95],[65,23.5],[66,23.1],[67,22.85],[68,22.65],[69,22.55],[70,22.45],[71,22.4],[72,22.45],[73,22.55],[74,22.45],[75,22.4],[76,22.55],[77,22.95],[78,23.4],[79,23.85],[80,24.15],[81,24.3],[82,24.15],[83,23.85],[84,23.6],[85,23.95],[86,24.25],[87,24.45],[88,24.25],[89,23.85],[90,23.3],[91,22.95],[92,22.75],[93,22.55],[94,22.45],[96,22.4],[97,22.45],[98,22.35],[99,22.4],[100,22.55],[101,22.95],[102,23.4],[103,23.85],[104,24.15],[105,24.3],[106,24.05],[107,23.7],[108,23.55],[109,23.95],[110,24.25],[111,24.3],[112,24.15],[113,23.7],[114,23.2],[115,22.85],[116,22.65],[117,22.5],[118,22.4],[120,22.4],[121,22.55],[122,22.4],[123,22.45],[124,22.55],[125,22.95],[126,23.4],[127,23.95],[128,24.2],[129,24.35],[130,24.15],[131,23.85],[132,23.7],[133,24.15],[134,24.4],[135,24.45],[136,24.25],[137,23.85],[138,23.3],[139,22.95],[140,22.75],[141,22.55],[142,22.45],[144,22.4],[145,22.45],[146,22.35],[147,22.4],[148,22.55],[149,22.95],[150,23.4],[151,23.85],[152,24.15],[153,24.3],[154,24.05],[155,23.65],[156,23.55],[157,23.95],[158,24.25],[159,24.45],[160,24.25],[161,23.85],[162,23.3],[163,22.95],[164,22.75],[165,22.55],[166,22.45],[167,22.45],[168,22.45]];
var c2Mapc = [[0,18.9],[1,19.15],[2,18.8],[3,18.4],[4,19.45],[5,20.3],[6,21.15],[7,21.8],[8,22.65],[9,23.3],[10,22.65],[11,21.8],[12,21.6],[13,22.25],[14,23.1],[15,23.3],[16,22.65],[17,21.6],[18,20.75],[19,20.1],[20,19.55],[21,19.45],[22,19.0],[23,18.8],[24,18.8],[25,19.0],[26,18.6],[27,18.3],[28,18.05],[29,19.45],[30,20.3],[31,21.15],[32,22.0],[33,23.5],[34,22.85],[35,22.25],[36,21.8],[37,22.65],[38,23.3],[39,23.7],[40,23.3],[41,22.25],[42,20.95],[43,20.3],[44,19.9],[45,19.45],[46,19.0],[47,18.8],[48,18.6],[49,18.9],[50,18.4],[51,18.2],[52,19.35],[53,20.3],[54,21.15],[55,22.0],[56,22.65],[57,23.4],[58,22.85],[59,22.1],[60,22.25],[61,22.85],[62,23.2],[63,23.1],[64,22.25],[65,21.15],[66,20.3],[67,19.65],[68,19.25],[69,19.0],[70,18.9],[72,18.9],[73,19.15],[74,18.9],[75,18.8],[76,19.65],[77,20.4],[78,21.15],[79,22.0],[80,22.65],[81,23.2],[82,22.65],[83,21.8],[84,21.5],[85,21.7],[86,22.45],[87,23.0],[88,22.65],[89,22.0],[90,20.95],[91,20.1],[92,19.45],[93,19.15],[94,18.9],[95,19.0],[96,18.9],[97,18.8],[98,18.7],[99,18.6],[100,19.35],[101,20.3],[102,21.15],[103,22.0],[104,22.65],[105,23.4],[106,22.65],[107,21.8],[108,21.6],[109,22.25],[110,23.0],[111,23.1],[112,22.65],[113,21.8],[114,20.75],[115,20.0],[116,19.45],[117,19.15],[118,18.9],[120,18.9],[121,19.15],[122,18.9],[123,18.8],[124,19.35],[125,20.3],[126,21.15],[127,22.25],[128,22.65],[129,23.4],[130,22.85],[131,21.9],[132,21.8],[133,22.45],[134,23.1],[135,23.4],[136,22.85],[137,21.8],[138,20.75],[139,19.9],[140,19.45],[141,19.25],[142,19.0],[143,18.8],[144,18.9],[145,18.7],[146,18.6],[147,18.5],[148,19.45],[149,20.3],[150,21.15],[151,22.0],[152,22.65],[153,23.4],[154,22.65],[155,21.8],[156,21.5],[157,22.25],[158,23.0],[159,23.4],[160,22.85],[161,21.8],[162,20.75],[163,19.9],[164,19.45],[165,19.25],[166,19.0],[167,19.0],[168,19.0]];
// summer room 104
var d1Base = [[0,26.25],[2,25.5],[4,24.85],[6,24.4],[6.5,24.35],[7,24.6],[8,25.5],[9,26.0],[18.5,26.0],[19,27.1],[20,26.7],[22,25.95],[24,25.35],[26,24.9],[28,24.45],[30,23.95],[31,23.9],[32,24.6],[33,25.5],[34,26.0],[42,26.0],[42.5,27.1],[44,25.95],[46,25.2],[48,24.85],[50,24.6],[52,24.4],[54,24.2],[55,24.25],[56,25.8],[57,26.0],[66,26.0],[66.5,27.3],[68,26.1],[70,25.05],[72,24.6],[74,24.25],[76,23.95],[78,23.6],[79,23.5],[80,24.9],[81,25.65],[82,26.0],[90,26.0],[91,26.4],[92,25.95],[93,25.2],[94,24.6],[96,23.9],[98,23.45],[100,23.25],[102,23.2],[103,23.15],[104,24.6],[105,25.65],[106,26.0],[114.5,26.0],[115,26.6],[116,25.95],[117,25.05],[118,24.6],[120,23.95],[122,23.45],[124,23.15],[126,22.95],[127,22.85],[128,24.3],[129,25.8],[130,26.0],[138,26.0],[138.5,28.0],[140,27.25],[142,26.1],[144,25.2],[146,24.6],[148,24.25],[150,23.9],[151,23.75],[152,24.9],[153,26.0],[162,26.0],[162.5,28.6],[164,28.3],[165,27.55],[166,26.95],[168,26.0]];
var d1Mpc = [[0,22.75],[2,22.45],[4,22.65],[5,22.85],[6,23.3],[7,23.8],[8,24.1],[9,24.25],[10,23.8],[11,24.05],[12,24.35],[13,24.6],[14,24.7],[15,24.6],[16,24.7],[17,24.35],[18,23.6],[19,23.15],[20,23.0],[22,22.8],[24,22.7],[26,22.4],[28,22.55],[30,22.95],[31,23.45],[32,23.9],[34,23.9],[35,23.75],[36,24.05],[37,24.4],[38,24.45],[40,24.35],[41,24.2],[42,23.6],[43,23.0],[44,22.85],[46,22.65],[48,22.5],[50,22.4],[52,22.5],[54,22.7],[55,23.15],[56,23.95],[57,24.35],[58,24.55],[60,24.55],[62,24.75],[63,24.9],[64,25.15],[65,24.9],[66,24.05],[67,23.25],[68,22.95],[70,22.55],[72,22.4],[74,22.25],[75,22.25],[76,22.4],[78,22.5],[79,22.85],[80,23.6],[82,23.75],[84,23.9],[86,24.35],[88,24.55],[89,24.6],[90,24.25],[91,23.45],[92,23.0],[94,22.7],[96,22.5],[98,22.4],[100,22.2],[101,22.25],[102,22.5],[103,22.7],[104,23.45],[105,23.9],[106,23.9],[108,23.65],[109,24.05],[110,24.25],[112,24.6],[113,24.7],[114,24.05],[115,23.3],[116,23.0],[118,22.7],[120,22.55],[122,22.4],[124,22.2],[125,22.25],[126,22.4],[127,22.7],[128,23.45],[129,23.8],[130,23.95],[132,24.25],[134,24.75],[136,25.05],[137,24.9],[138,24.05],[139,23.15],[140,22.85],[142,22.65],[144,22.5],[146,22.25],[148,22.4],[150,22.7],[151,23.15],[152,23.75],[153,24.05],[154,24.1],[156,24.35],[158,24.9],[160,25.15],[161,25.05],[162,24.35],[163,23.45],[164,23.15],[166,23.0],[168,22.7]];
var d1Mapc = [[0,23.45],[2,23.15],[4,23.5],[6,23.9],[7,24.3],[8,24.6],[9,25.0],[10,24.45],[11,24.6],[12,24.85],[13,25.35],[14,25.55],[15,25.5],[16,25.65],[17,24.9],[18,24.2],[19,23.8],[20,23.75],[22,23.5],[24,23.35],[26,23.15],[28,23.2],[30,23.65],[31,24.05],[32,24.45],[33,24.85],[34,24.6],[35,24.25],[36,24.6],[37,25.2],[38,25.3],[39,25.2],[40,25.05],[41,24.9],[42,24.3],[43,23.8],[44,23.6],[46,23.45],[48,23.3],[50,23.2],[52,23.15],[54,23.45],[55,23.9],[56,24.6],[57,25.05],[58,25.65],[59,25.35],[60,25.05],[61,25.5],[62,26.25],[63,26.4],[64,26.8],[65,26.5],[66,25.35],[67,24.05],[68,23.75],[70,23.45],[72,23.3],[74,23.15],[76,23.1],[78,23.45],[79,23.45],[80,24.05],[81,24.45],[82,24.3],[83,24.55],[84,24.2],[85,24.3],[86,24.9],[87,25.2],[88,25.35],[89,25.05],[90,24.6],[91,23.9],[92,23.5],[94,23.3],[96,23.15],[98,23.1],[100,23.0],[102,23.05],[103,23.15],[104,23.9],[105,24.6],[106,24.55],[107,24.3],[108,24.25],[109,24.6],[110,24.9],[111,25.2],[112,25.55],[113,25.35],[114,24.6],[115,23.9],[116,23.6],[118,23.35],[120,23.2],[122,23.1],[124,23.0],[126,22.85],[127,22.9],[128,23.9],[129,24.6],[130,24.7],[131,24.6],[132,24.9],[133,25.5],[134,26.25],[135,26.3],[136,26.25],[137,26.25],[138,25.05],[139,23.8],[140,23.6],[142,23.35],[144,23.3],[146,23.15],[148,23.35],[150,23.6],[151,24.05],[152,24.45],[153,24.75],[154,24.6],[155,25.05],[156,25.35],[157,24.75],[158,25.5],[159,26.25],[160,26.1],[161,26.8],[161.5,26.95],[162,25.95],[163,24.45],[164,24.05],[166,23.8],[168,23.45]];
// winter room 104
var d2Base = [[0,12.6],[2,11.65],[4,10.8],[6,10.2],[7,9.8],[8,9.6],[8.05,22.3],[8.2,20],[18,20],[18.3,17.85],[19,16.4],[20,14.9],[21,14.1],[22,13.25],[24,12.4],[26,12.1],[28,12.0],[30,11.9],[31,12.0],[32,11.8],[32.05,22.3],[32.2,20],[42,20],[42.3,16.8],[43,15.35],[44,14.3],[46,13.05],[48,12.2],[50,11.55],[52,11.25],[54,11.1],[56,11.05],[56.05,22.3],[56.2,20],[66,20],[66.3,16.8],[67,15.1],[68,14.1],[70,13.15],[72,12.7],[74,12.6],[76,12.4],[78,11.35],[79,10.8],[80,11.1],[80.05,22.3],[80.2,20],[90,20],[90.3,16.8],[91,15.1],[92,14.1],[94,12.6],[96,11.35],[98,10.3],[99,9.9],[100,9.6],[103,9.0],[104,9.0],[104.05,22.3],[104.2,20],[114,20],[114.3,16.8],[115,15.1],[116,14.1],[118,12.6],[120,11.35],[122,10.4],[123,10.0],[124,9.6],[127,9.0],[128,9.0],[128.05,22.3],[128.2,20],[138,20],[138.3,16.8],[139,15.1],[140,14.1],[142,12.6],[144,11.35],[146,10.4],[147,10.0],[148,9.6],[151,9.0],[152,9.0],[152.05,22.3],[152.2,20],[162,20],[162.3,16.8],[163,15.1],[164,14.1],[166,12.4],[168,11.15]];
var d2Mpc = [[0,23.75],[1,23.75],[2,23.95],[3,23.65],[4,23.3],[5,23.2],[6,22.9],[7,22.8],[8,22.7],[9,22.8],[10,23.2],[11,23.4],[12,23.2],[13,22.8],[14,22.7],[15,22.6],[16,22.5],[17,22.6],[18,22.9],[19,23.2],[20,23.55],[22,23.65],[24,23.7],[25,23.75],[26,23.95],[27,23.65],[28,23.3],[29,23.2],[30,22.9],[31,22.8],[32,22.7],[33,22.9],[34,23.0],[35,23.3],[36,23.4],[37,23.2],[38,22.8],[39,22.7],[40,22.7],[41,22.9],[42,23.1],[43,23.4],[44,23.55],[46,23.65],[48,23.7],[49,23.75],[50,23.95],[51,23.65],[52,23.3],[53,23.2],[54,22.9],[55,22.8],[56,22.7],[57,22.9],[58,23.1],[59,23.4],[60,23.55],[61,23.3],[62,22.9],[63,22.75],[64,22.6],[65,22.7],[66,23.0],[67,23.3],[68,23.55],[70,23.7],[72,23.75],[73,23.8],[74,24.05],[75,23.75],[76,23.4],[77,23.2],[78,23.0],[79,22.9],[80,22.8],[81,22.9],[82,22.7],[83,23.1],[84,23.3],[85,23.1],[86,22.8],[87,22.7],[88,22.6],[89,22.5],[90,22.8],[91,23.1],[92,23.4],[93,23.55],[94,23.65],[96,23.75],[97,23.75],[98,24.0],[99,23.75],[100,23.4],[101,23.2],[102,23.0],[103,22.9],[104,22.8],[105,22.9],[106,23.2],[107,23.1],[108,22.9],[109,23.1],[110,23.3],[111,23.2],[112,22.8],[113,22.7],[114,22.6],[115,22.8],[116,23.1],[117,23.4],[118,23.65],[120,23.75],[121,23.8],[122,24.05],[123,23.75],[124,23.4],[125,23.2],[126,23.0],[127,22.9],[128,22.8],[129,22.9],[130,23.1],[131,23.3],[132,23.2],[133,22.9],[134,22.7],[135,22.6],[136,22.6],[137,22.7],[138,23.0],[139,23.3],[140,23.55],[142,23.65],[144,23.7],[145,23.75],[146,23.95],[147,23.7],[148,23.3],[149,23.2],[150,22.9],[151,22.8],[152,22.7],[153,22.9],[154,23.1],[155,23.3],[156,23.1],[157,22.9],[158,22.7],[159,22.55],[160,22.5],[161,22.7],[162,22.9],[163,23.2],[164,23.4],[165,23.55],[166,23.55],[167,23.8],[168,23.8]];
var d2Mapc = [[0,22.85],[1,22.85],[2,23.4],[3,22.5],[4,21.95],[5,21.85],[6,21.2],[7,20.7],[8,20.6],[9,20.7],[10,20.15],[11,21.2],[12,21.95],[13,21.85],[14,20.6],[15,20.05],[16,20.05],[17,19.85],[18,20.4],[19,21.2],[20,21.85],[21,22.35],[22,22.45],[23,22.7],[24,22.8],[25,22.85],[26,23.3],[27,22.7],[28,21.85],[29,21.75],[30,21.0],[31,20.5],[32,20.4],[33,20.8],[34,20.5],[35,21.55],[36,22.15],[37,21.95],[38,20.6],[39,20.5],[40,20.45],[41,20.4],[42,20.8],[43,21.55],[44,22.15],[45,22.25],[46,22.5],[47,22.8],[48,22.85],[49,22.9],[50,23.4],[51,22.7],[52,21.85],[53,21.75],[54,21.0],[55,20.6],[56,20.6],[57,21.0],[58,20.6],[59,21.65],[60,22.05],[61,21.95],[62,20.6],[63,20.3],[64,20.15],[65,19.85],[66,20.4],[67,21.45],[68,22.05],[69,22.25],[70,22.5],[71,22.75],[72,22.85],[73,22.85],[74,23.4],[75,22.7],[76,21.95],[77,21.75],[78,21.1],[79,20.7],[80,20.6],[81,20.4],[82,20.3],[83,21.45],[84,21.85],[85,21.75],[86,20.6],[87,20.3],[88,20.05],[89,19.75],[90,20.4],[91,21.45],[92,21.95],[93,22.25],[94,22.5],[95,22.75],[96,22.85],[97,22.9],[98,23.5],[99,22.7],[100,21.95],[101,21.75],[102,21.0],[103,20.6],[104,20.5],[105,20.6],[106,21.1],[107,21.45],[108,21.0],[109,20.6],[110,21.65],[111,21.55],[112,20.15],[113,19.85],[114,19.95],[115,20.6],[116,21.45],[117,22.05],[118,22.35],[119,22.5],[120,22.7],[121,22.9],[122,23.0],[122.5,23.6],[123,22.7],[124,21.85],[125,21.65],[126,21.0],[127,20.6],[128,20.5],[129,21.1],[130,20.6],[131,21.65],[132,22.05],[133,21.95],[134,20.6],[135,20.3],[136,20.15],[137,19.85],[138,20.3],[139,21.35],[140,21.95],[141,22.25],[142,22.5],[143,22.7],[144,22.85],[145,22.9],[146,23.4],[147,22.7],[148,21.85],[149,21.65],[150,21.0],[151,20.6],[152,20.5],[153,20.8],[154,20.4],[155,21.65],[156,21.85],[157,21.75],[158,20.6],[159,20.3],[160,20.05],[161,20.15],[162,20.6],[163,21.45],[164,21.95],[165,22.25],[166,22.3],[167,22.9],[168,22.95]];

// ---- layout (pixels) and styling ----
var FONT = '"Liberation Serif", "Times New Roman", serif';
var COLORS = { base: '#2f9461', mpc: '#2c68b3', mapc: '#d03a2c', occ: '#c49bd8', occAxis: '#9340b5' };

var panels = [
  { title: 'Summer Room 101 Temperature Comparison', tag: '(a1)', summer: true,  box: [195, 110, 1680, 621], titleY: 74,   legendAt: [294, 898],   tagAt: [1038, 1073], base: a1Base, mpc: a1Mpc, mapc: a1Mapc, occ: occ101 },
  { title: 'Winter Room 101 Temperature Comparison', tag: '(a2)', summer: false, box: [2261, 125, 1668, 598], titleY: 88,   legendAt: [2380, 884],  tagAt: [3089, 1073], base: a2Base, mpc: a2Mpc, mapc: a2Mapc, occ: occ101 },
  { title: 'Summer Room 102 Temperature Comparison', tag: '(b1)', summer: true,  box: [195, 1213, 1691, 624], titleY: 1177, legendAt: [295, 2005],  tagAt: [1038, 2138], base: b1Base, mpc: b1Mpc, mapc: b1Mapc, occ: occ102 },
  { title: 'Winter Room 102 Temperature Comparison', tag: '(b2)', summer: false, box: [2261, 1231, 1656, 596], titleY: 1198, legendAt: [2377, 1987], tagAt: [3089, 2138], base: b2Base, mpc: b2Mpc, mapc: b2Mapc, occ: occ102 },
  { title: 'Summer Room 103 Temperature Comparison', tag: '(c1)', summer: true,  box: [195, 2271, 1692, 623], titleY: 2233, legendAt: [295, 3064],  tagAt: [1038, 3198], base: c1Base, mpc: c1Mpc, mapc: c1Mapc, occ: occ103 },
  { title: 'Winter Room 103 Temperature Comparison', tag: '(c2)', summer: false, box: [2261, 2289, 1647, 592], titleY: 2254, legendAt: [2375, 3040], tagAt: [3089, 3198], base: c2Base, mpc: c2Mpc, mapc: c2Mapc, occ: occ103 },
  { title: 'Summer Room 104 Temperature Comparison', tag: '(d1)', summer: true,  box: [194, 3326, 1658, 611], titleY: 3289, legendAt: [289, 4104],  tagAt: [1038, 4235], base: d1Base, mpc: d1Mpc, mapc: d1Mapc, occ: occ104 },
  { title: 'Winter Room 104 Temperature Comparison', tag: '(d2)', summer: false, box: [2260, 3335, 1648, 592], titleY: 3301, legendAt: [2375, 4087], tagAt: [3089, 4235], base: d2Base, mpc: d2Mpc, mapc: d2Mapc, occ: occ104 }
];

var grids = [], xAxes = [], yAxes = [], series = [], legends = [], texts = [];

function axisText(size, color) {
  return { fontFamily: FONT, fontSize: size, color: color || '#000' };
}

panels.forEach(function (p, i) {
  var tempTicks = p.summer ? summerTicks : winterTicks;
  var tempMin = p.summer ? 17 : 10;
  var tempMax = p.summer ? 30 : 28;
  var leftCol = p.box[0] < 1000;

  grids.push({ left: p.box[0], top: p.box[1], width: p.box[2], height: p.box[3],
    show: true, borderColor: '#333', borderWidth: 3, backgroundColor: '#fff' });

  xAxes.push({
    type: 'value', gridIndex: i, min: 0, max: 168,
    name: 'Time (hours)', nameLocation: 'middle', nameGap: 78,
    nameTextStyle: axisText(56),
    axisLine: { show: true, onZero: false, lineStyle: { color: '#333', width: 3 } },
    axisTick: { show: true, length: 10, customValues: hourTicks, lineStyle: { color: '#333', width: 3 } },
    axisLabel: { customValues: hourTicks, margin: 18, fontFamily: FONT, fontSize: 55, color: '#000' },
    splitLine: { show: true, lineStyle: { color: '#e4e4e4', width: 2 } }
  });

  yAxes.push({
    type: 'value', gridIndex: i, position: 'left', min: tempMin, max: tempMax,
    name: 'Temperature (°C)', nameLocation: 'middle', nameGap: leftCol ? 90 : 82, nameRotate: 90,
    nameTextStyle: axisText(57),
    axisLine: { show: true, onZero: false, lineStyle: { color: '#333', width: 3 } },
    axisTick: { show: true, length: 10, customValues: tempTicks, lineStyle: { color: '#333', width: 3 } },
    axisLabel: { customValues: tempTicks, margin: 20, fontFamily: FONT, fontSize: 55, color: '#000' },
    splitLine: { show: true, lineStyle: { color: '#e4e4e4', width: 2 } }
  });

  yAxes.push({
    type: 'value', gridIndex: i, position: 'right', min: -0.05, max: 1.2,
    name: 'Occupancy', nameLocation: 'middle', nameGap: 126, nameRotate: 90,
    nameTextStyle: axisText(58, COLORS.occAxis),
    axisLine: { show: true, onZero: false, lineStyle: { color: '#333', width: 3 } },
    axisTick: { show: true, length: 10, customValues: occTicks, lineStyle: { color: '#333', width: 3 } },
    axisLabel: { customValues: occTicks, margin: 22, fontFamily: FONT, fontSize: 55, color: COLORS.occAxis,
      formatter: function (v) { return Number(v).toFixed(2); } },
    splitLine: { show: false }
  });

  series.push({
    name: 'Occupancy', type: 'line', xAxisIndex: i, yAxisIndex: 2 * i + 1,
    step: 'end', showSymbol: false, symbol: 'none', color: COLORS.occ,
    lineStyle: { width: 2.5, color: COLORS.occ },
    areaStyle: { color: 'rgba(190,140,215,0.24)' },
    data: p.occ.map(function (v, h) { return [h, v]; }),
    markLine: {
      silent: true, symbol: ['none', 'none'], label: { show: false },
      lineStyle: { color: '#d6d6d6', width: 2, type: 'dotted' },
      data: dayMarks.map(function (d) { return { xAxis: d }; })
    },
    z: 2
  });

  [['Baseline', p.base, COLORS.base], ['MPC', p.mpc, COLORS.mpc], ['MAPC', p.mapc, COLORS.mapc]].forEach(function (s) {
    series.push({
      name: s[0], type: 'line', xAxisIndex: i, yAxisIndex: 2 * i,
      showSymbol: false, symbol: 'none', color: s[2], clip: true,
      lineStyle: { width: 4.5, color: s[2] },
      data: s[1], z: 3
    });
  });

  legends.push({
    data: seriesNames, left: p.legendAt[0], top: p.legendAt[1] - 34,
    icon: 'rect', itemWidth: 108, itemHeight: 6, itemGap: 64,
    textStyle: { fontFamily: FONT, fontSize: 56, color: '#000', padding: [0, 0, 0, 22] },
    selectedMode: false
  });

  texts.push({
    type: 'text', x: p.box[0] + p.box[2] / 2, y: p.titleY, silent: true,
    style: { text: p.title, fill: '#000', font: 'bold 68px ' + FONT,
      align: 'center', verticalAlign: 'middle', textAlign: 'center', textVerticalAlign: 'middle' }
  });
  texts.push({
    type: 'text', x: p.tagAt[0], y: p.tagAt[1], silent: true,
    style: { text: p.tag, fill: '#000', font: 'bold 62px ' + FONT,
      align: 'center', verticalAlign: 'middle', textAlign: 'center', textVerticalAlign: 'middle' }
  });
});

var chart = echarts.init(document.getElementById('chart'));
chart.setOption({
  animation: false,
  backgroundColor: '#fff',
  grid: grids,
  xAxis: xAxes,
  yAxis: yAxes,
  legend: legends,
  series: series,
  graphic: texts
});
</script>
</body>
</html>
